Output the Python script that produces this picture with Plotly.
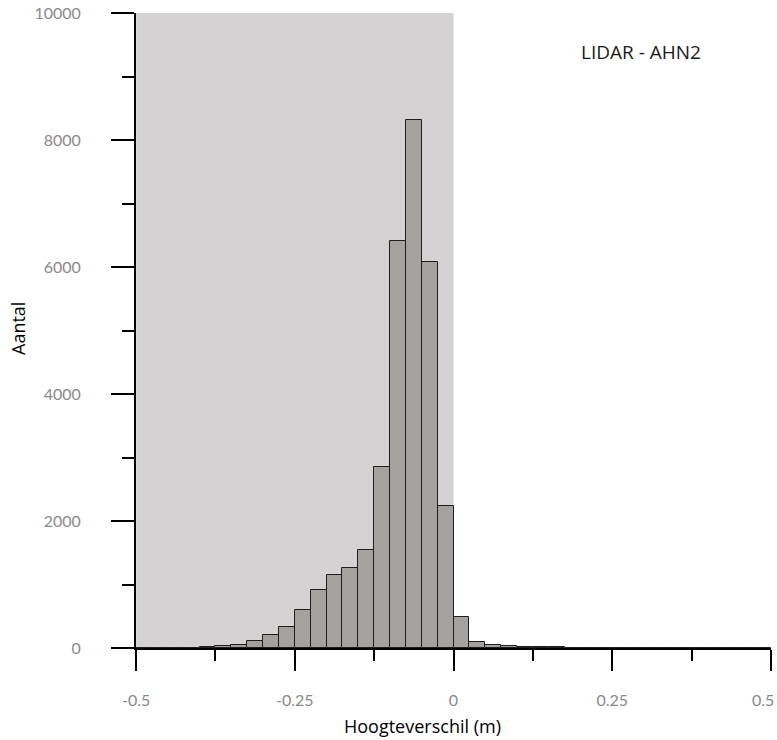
import plotly.graph_objects as go

# Histogram bins (left edges, width 0.025 m)
bin_left = [-0.500, -0.475, -0.450, -0.425, -0.400, -0.375, -0.350, -0.325, -0.300, -0.275,
            -0.250, -0.225, -0.200, -0.175, -0.150, -0.125, -0.100, -0.075, -0.050, -0.025,
            0.000, 0.025, 0.050, 0.075, 0.100, 0.125, 0.150, 0.175, 0.200, 0.225,
            0.250, 0.275, 0.300, 0.325, 0.350, 0.375, 0.400, 0.425, 0.450, 0.475]
bin_width = 0.025
counts = [0, 0, 3, 5, 12, 25, 50, 115, 210, 336,
          598, 908, 1145, 1255, 1536, 2852, 6412, 8308, 6075, 2233,
          495, 92, 50, 28, 20, 14, 8, 6, 4, 3,
          3, 2, 2, 1, 1, 1, 1, 0, 1, 0]

x_ticks = [-0.5, -0.25, 0, 0.25, 0.5]
x_ticktext = ["-0.5", "-0.25", "0", "0.25", "0.5"]
y_ticks = [0, 2000, 4000, 6000, 8000, 10000]
y_ticktext = ["0", "2000", "4000", "6000", "8000", "10000"]

shade_range = [-0.5, 0.0]
label_text = "LIDAR - AHN2"

centers = [b + bin_width / 2 for b in bin_left]

fig = go.Figure()
fig.add_trace(go.Bar(
    x=centers, y=counts, width=bin_width,
    marker=dict(color="#a4a19e", line=dict(color="#1e1e1e", width=1)),
    showlegend=False,
))

fig.add_shape(type="rect", xref="x", yref="y",
              x0=shade_range[0], x1=shade_range[1], y0=0, y1=10000,
              fillcolor="#d4d2d3", line=dict(width=0), layer="below")

fig.add_annotation(x=0.295, y=9380, xref="x", yref="y", text=label_text,
                   showarrow=False, xanchor="center", yanchor="middle",
                   font=dict(family="Open Sans", size=19, color="#1a1a1a"))

tick_font = dict(family="Lato", size=16, color="#8a8a8a")

# last x tick label drawn as an annotation so it stays inside the page edge
fig.add_annotation(x=x_ticks[-1], y=0, xref="x", yref="y", text=x_ticktext[-1],
                   showarrow=False, xanchor="right", yanchor="middle",
                   xshift=5, yshift=-51, font=tick_font)

plot_h = 740 - 13 - 92
plot_w = 777 - 136 - 6
# axis titles as annotations for exact placement
fig.add_annotation(x=(422 - 136) / plot_w, y=-(726 - 648) / plot_h, xref="paper", yref="paper",
                   xanchor="center", yanchor="middle",
                   text="Hoogteverschil (m)", showarrow=False,
                   font=dict(family="Open Sans", size=18, color="black"))
fig.add_annotation(x=0, y=(648 - 329) / plot_h, xref="paper", yref="paper", xshift=-118,
                   xanchor="center", yanchor="middle",
                   text="Aantal", textangle=-90, showarrow=False,
                   font=dict(family="Open Sans", size=18, color="black"))

fig.update_xaxes(
    range=[-0.5002, 0.5002], tickvals=x_ticks, ticktext=x_ticktext[:-1] + [""],
    showgrid=False, zeroline=False, automargin=False,
    showline=True, linecolor="black", linewidth=2,
    ticks="outside", ticklen=21, tickwidth=2, tickcolor="black",
    minor=dict(dtick=0.125, tick0=-0.5, ticks="outside", ticklen=11, tickwidth=2, tickcolor="black"),
    tickfont=tick_font, ticklabelstandoff=16, ticklabeloverflow="allow",
)
fig.update_yaxes(
    range=[0, 10000], tickvals=y_ticks, ticktext=y_ticktext,
    showgrid=False, zeroline=False, automargin=False,
    showline=True, linecolor="black", linewidth=2,
    ticks="outside", ticklen=23, tickwidth=2, tickcolor="black",
    minor=dict(dtick=1000, tick0=0, ticks="outside", ticklen=12, tickwidth=2, tickcolor="black"),
    tickfont=tick_font, ticklabelstandoff=27, ticklabeloverflow="allow",
)

fig.update_layout(
    width=777, height=740,
    margin=dict(l=136, r=6, t=13, b=92, autoexpand=False),
    plot_bgcolor="white", paper_bgcolor="white",
    bargap=0,
)

fig.write_html("out.html", config={"displayModeBar": False},
               post_script="document.body.style.margin='0';document.body.style.overflow='hidden';")
